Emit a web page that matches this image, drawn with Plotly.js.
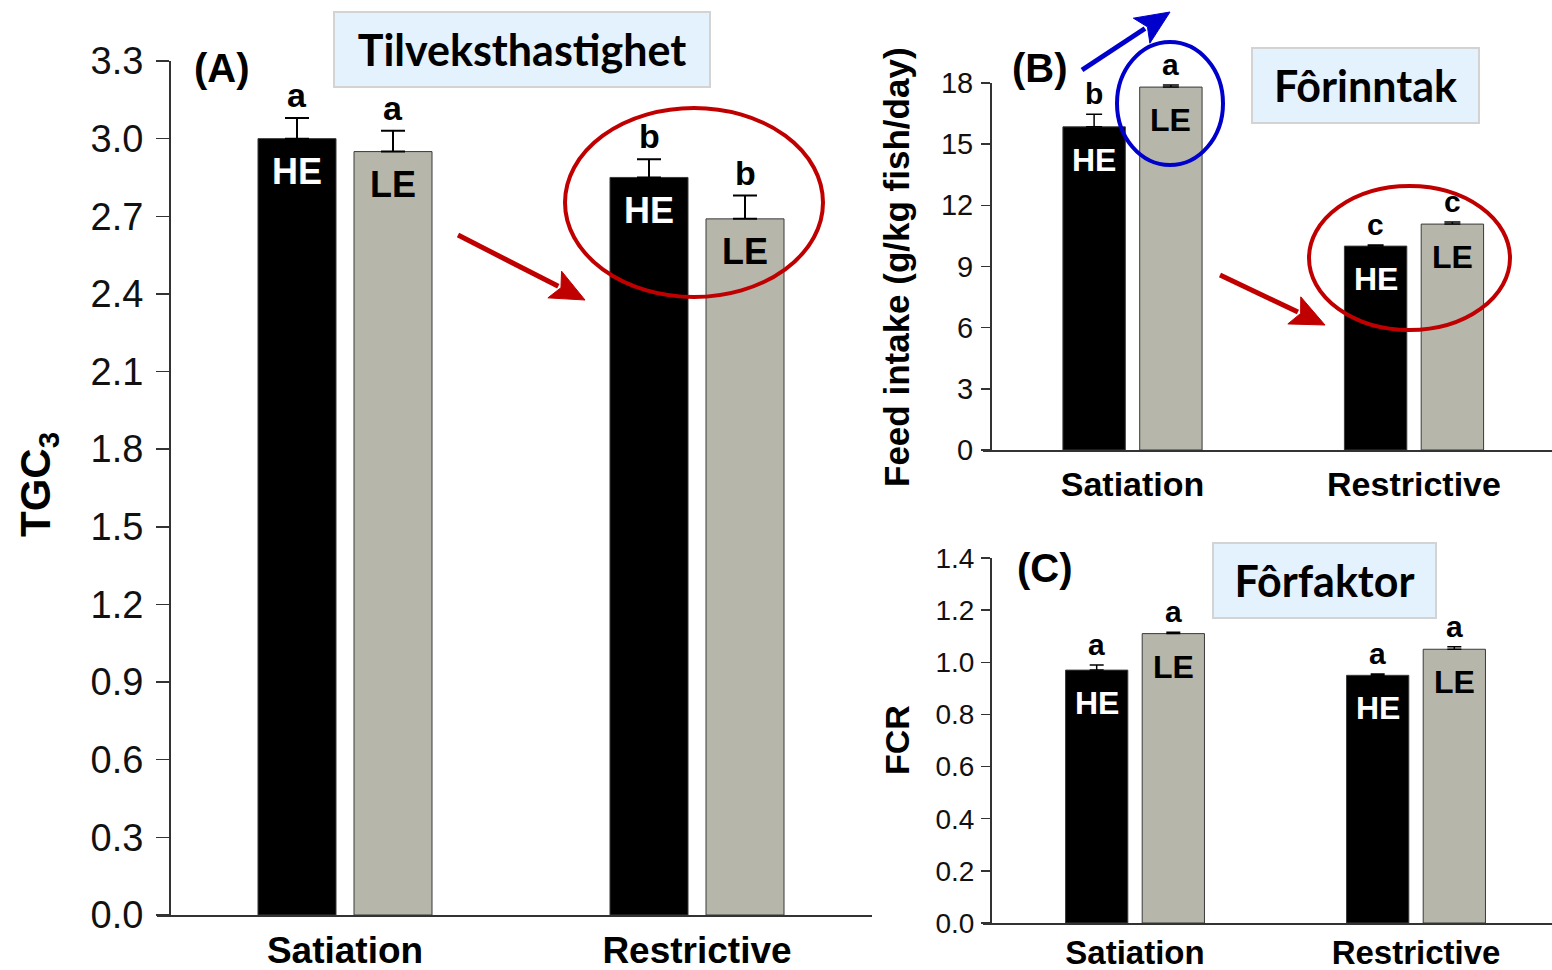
<!DOCTYPE html>
<html><head><meta charset="utf-8">
<script src="https://cdn.plot.ly/plotly-3.0.1.min.js"></script>
<style>html,body{margin:0;padding:0;background:#fff;} #chart{width:1552px;height:970px;}</style>
</head><body><div id="chart"></div>
<script>
// ---------- data ----------
const categories = ['Satiation', 'Restrictive'];

const tgcHE = [3.00, 2.85];
const tgcHEErr = [0.08, 0.07];
const tgcLE = [2.95, 2.69];
const tgcLEErr = [0.08, 0.09];
const tgcHELetters = ['a', 'b'];
const tgcLELetters = ['a', 'b'];
const tgcTicks = [0, 0.3, 0.6, 0.9, 1.2, 1.5, 1.8, 2.1, 2.4, 2.7, 3.0, 3.3];

const feedHE = [15.85, 10.0];
const feedHEErr = [0.62, 0.06];
const feedLE = [17.8, 11.08];
const feedLEErr = [0.1, 0.1];
const feedHELetters = ['b', 'c'];
const feedLELetters = ['a', 'c'];
const feedTicks = [0, 3, 6, 9, 12, 15, 18];

const fcrHE = [0.97, 0.95];
const fcrHEErr = [0.02, 0.005];
const fcrLE = [1.11, 1.05];
const fcrLEErr = [0.005, 0.01];
const fcrHELetters = ['a', 'a'];
const fcrLELetters = ['a', 'a'];
const fcrTicks = [0, 0.2, 0.4, 0.6, 0.8, 1.0, 1.2, 1.4];

const seriesNames = ['HE', 'LE'];
// ---------- style ----------
const W = 1552, H = 970;
const HEcolor = '#000000', LEcolor = '#B6B6AA';
const bargap = 0.4545, bargroupgap = 0.1875;
const off = (1 - bargap) / 4;           // centre of each bar slot from category centre
const px = v => v / W;
const py = v => 1 - v / H;
const AX = '#333333';
const SANS = 'Liberation Sans, Arial, sans-serif';
const BOXF = 'Lato, Open Sans, sans-serif';

function pair(xa, ya, he, heErr, le, leErr, capW, thick) {
  const mk = (name, y, err, color) => ({
    type: 'bar', name: name, x: categories, y: y, xaxis: xa, yaxis: ya,
    marker: {color: color, line: {color: '#3a3a3a', width: 1}},
    error_y: {type: 'data', symmetric: false, array: err, arrayminus: err.map(() => 0),
              color: '#000', thickness: thick, width: capW},
    showlegend: false, hoverinfo: 'x+y'
  });
  return [mk(seriesNames[0], he, heErr, HEcolor), mk(seriesNames[1], le, leErr, LEcolor)];
}

const data = [
  ...pair('x', 'y', tgcHE, tgcHEErr, tgcLE, tgcLEErr, 12, 2),
  ...pair('x2', 'y2', feedHE, feedHEErr, feedLE, feedLEErr, 8, 1.5),
  ...pair('x3', 'y3', fcrHE, fcrHEErr, fcrLE, fcrLEErr, 7, 1.5)
];

const annotations = [];
function labels(xr, yr, he, heErr, le, leErr, heL, leL, letterSize, inSize, inShift) {
  categories.forEach((c, i) => {
    [[he, heErr, heL, -off, '#fff', seriesNames[0]], [le, leErr, leL, off, '#000', seriesNames[1]]].forEach(s => {
      const [v, e, L, o, col, nm] = s;
      annotations.push({xref: xr, yref: yr, x: i + o, y: v[i] + e[i], text: L[i], showarrow: false,
        yanchor: 'bottom', yshift: 2, font: {family: SANS, size: letterSize, weight: 'bold', color: '#000'}});
      annotations.push({xref: xr, yref: yr, x: i + o, y: v[i], text: nm, showarrow: false,
        yanchor: 'middle', yshift: inShift, font: {family: SANS, size: inSize, weight: 'bold', color: col}});
    });
  });
}
labels('x', 'y', tgcHE, tgcHEErr, tgcLE, tgcLEErr, tgcHELetters, tgcLELetters, 34, 36, -33);
labels('x2', 'y2', feedHE, feedHEErr, feedLE, feedLEErr, feedHELetters, feedLELetters, 30, 32, -33);
labels('x3', 'y3', fcrHE, fcrHEErr, fcrLE, fcrLEErr, fcrHELetters, fcrLELetters, 30, 32, -33);

function paperText(text, x, y, size, angle, extra) {
  annotations.push(Object.assign({xref: 'paper', yref: 'paper', x: px(x), y: py(y), text: text,
    showarrow: false, textangle: angle || 0, xanchor: 'center', yanchor: 'middle',
    font: {family: SANS, size: size, weight: 'bold', color: '#000'}}, extra || {}));
}
// panel letters
paperText('(A)', 222, 68, 40);
paperText('(B)', 1040, 68, 40);
paperText('(C)', 1045, 568, 40);
// axis titles
paperText('TGC<sub>3</sub>', 38, 485, 42, -90);
paperText('Feed intake (g/kg fish/day)', 896, 267, 35, -90);
paperText('FCR', 897, 740, 34, -90);
// boxed titles
function boxTitle(text, x0, x1, y0, y1) {
  paperText(text, (x0 + x1) / 2, (y0 + y1) / 2, 43, 0, {
    width: x1 - x0 - 4, height: y1 - y0 - 4, bgcolor: '#E3F2FC', bordercolor: '#D3D3D3', borderwidth: 2,
    borderpad: 0, font: {family: BOXF, size: 43, weight: 'bold', color: '#000'}});
}
boxTitle('Tilveksthastighet', 333, 711, 11, 88);
boxTitle('Fôrinntak', 1251, 1480, 47, 124);
boxTitle('Fôrfaktor', 1212, 1437, 542, 619);

const shapes = [
  {type: 'circle', xref: 'paper', yref: 'paper', x0: px(565), x1: px(823), y0: py(297), y1: py(108),
   line: {color: '#C00000', width: 4}},
  {type: 'circle', xref: 'paper', yref: 'paper', x0: px(1309), x1: px(1510), y0: py(330), y1: py(186),
   line: {color: '#C00000', width: 4}},
  {type: 'circle', xref: 'paper', yref: 'paper', x0: px(1117), x1: px(1223), y0: py(165), y1: py(42),
   line: {color: '#0000CC', width: 4}}
];
// arrows drawn as shapes (shaft + filled triangular head), positions in page pixels
function arrow(x0, y0, x1, y1, color) {
  const dx = x1 - x0, dy = y1 - y0, len = Math.hypot(dx, dy);
  const ux = dx / len, uy = dy / len, L = 34, hw = 15;
  const bx = x1 - ux * L, by = y1 - uy * L;
  shapes.push({type: 'line', xref: 'paper', yref: 'paper', x0: px(x0), y0: py(y0), x1: px(bx + ux * 4), y1: py(by + uy * 4),
    line: {color: color, width: 5}});
  const p = [[x1, y1], [bx - uy * hw, by + ux * hw], [bx + ux * 7, by + uy * 7], [bx + uy * hw, by - ux * hw]];
  shapes.push({type: 'path', xref: 'paper', yref: 'paper',
    path: 'M' + p.map(q => px(q[0]) + ',' + py(q[1])).join(' L') + ' Z',
    fillcolor: color, line: {color: color, width: 1}});
}
arrow(458, 235, 585, 300, '#C00000');
arrow(1220, 275, 1325, 325, '#C00000');
arrow(1082, 70, 1170, 12, '#0000CC');

function xax(d0, d1, r0, r1, anchor, size, stand) {
  return {domain: [px(d0), px(d1)], range: [r0, r1], type: 'category', anchor: anchor,
    showline: true, linecolor: AX, linewidth: 2, ticks: '', showgrid: false, zeroline: false,
    ticklabelstandoff: stand,
    tickfont: {family: SANS, size: size, weight: 'bold', color: '#000'}, fixedrange: true};
}
function yax(top, bot, pos, ticks, dec, size, tlen, stand) {
  return {domain: [py(bot), py(top)], range: [0, ticks[ticks.length - 1]], anchor: 'free', position: px(pos),
    tickvals: ticks, ticktext: ticks.map(t => t.toFixed(dec)), showline: true, linecolor: AX, linewidth: 2,
    ticks: 'outside', ticklen: tlen, tickwidth: 1.5, tickcolor: AX, showgrid: false, zeroline: false,
    ticklabelstandoff: stand,
    tickfont: {family: SANS, size: size, color: '#111'}, fixedrange: true};
}

const layout = {
  width: W, height: H, margin: {l: 0, r: 0, t: 0, b: 0}, paper_bgcolor: '#fff', plot_bgcolor: 'rgba(0,0,0,0)',
  barmode: 'group', bargap: bargap, bargroupgap: bargroupgap, showlegend: false,
  xaxis: xax(157, 872, (157 - 345) / 352, (872 - 345) / 352, 'y', 37, 2),
  yaxis: yax(61, 915, 170, tgcTicks, 1, 38, 13, 5),
  xaxis2: xax(983, 1552, (983 - 1132.5) / 281.5, (1552 - 1132.5) / 281.5, 'y2', 34, 3),
  yaxis2: yax(83, 450, 991, feedTicks, 0, 29, 9, 2),
  xaxis3: xax(983, 1552, (983 - 1135) / 281, (1552 - 1135) / 281, 'y3', 33, -1),
  yaxis3: yax(558, 923, 991, fcrTicks, 1, 28, 9, 1),
  annotations: annotations, shapes: shapes
};

Plotly.newPlot('chart', data, layout, {staticPlot: true, displayModeBar: false});
</script></body></html>
